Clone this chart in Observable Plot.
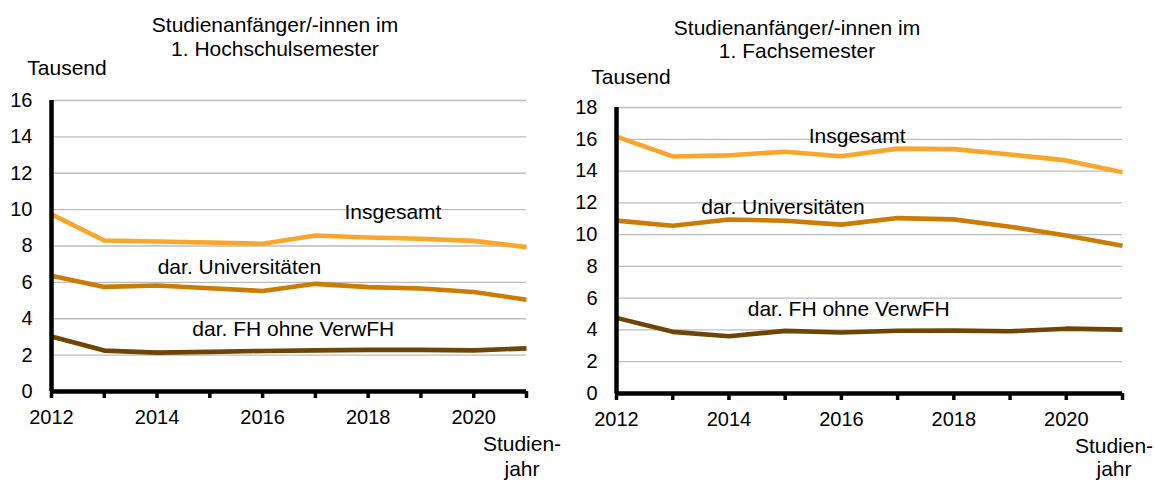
<!DOCTYPE html>
<html>
<head>
<meta charset="utf-8">
<script src="https://cdn.jsdelivr.net/npm/d3@7"></script>
<script src="https://cdn.jsdelivr.net/npm/@observablehq/plot@0.6"></script>
<style>
  body { margin: 0; background: #fff; font-family: "Liberation Sans", Arial, sans-serif; }
  #wrap { position: relative; width: 1155px; height: 483px; overflow: hidden; background: #fff; }
  .t { position: absolute; white-space: nowrap; font-size: 21px; line-height: 24px; color: #000; text-align: center; transform: translateX(-50%); }
  .p { position: absolute; top: 0; }
</style>
</head>
<body>
<div id="wrap"></div>
<script>
// ---------- data ----------
const years = [2012, 2013, 2014, 2015, 2016, 2017, 2018, 2019, 2020, 2021];
const seriesNames = ["Insgesamt", "dar. Universitäten", "dar. FH ohne VerwFH"];

// Studienanfänger/-innen im 1. Hochschulsemester (Tausend)
const hsInsgesamt     = [9.74, 8.30, 8.25, 8.19, 8.12, 8.58, 8.47, 8.40, 8.28, 7.94];
const hsUniversitaeten = [6.37, 5.75, 5.83, 5.68, 5.53, 5.92, 5.74, 5.66, 5.47, 5.05];
const hsFH            = [3.02, 2.25, 2.14, 2.18, 2.23, 2.26, 2.29, 2.29, 2.26, 2.37];

// Studienanfänger/-innen im 1. Fachsemester (Tausend)
const fsInsgesamt     = [16.17, 14.92, 14.99, 15.22, 14.93, 15.41, 15.38, 15.04, 14.67, 13.92];
const fsUniversitaeten = [10.88, 10.56, 10.95, 10.87, 10.63, 11.04, 10.96, 10.50, 9.95, 9.30];
const fsFH            = [4.76, 3.88, 3.60, 3.94, 3.84, 3.95, 3.96, 3.92, 4.08, 4.02];

const titlesLeft  = ["Studienanfänger/-innen im", "1. Hochschulsemester"];
const titlesRight = ["Studienanfänger/-innen im", "1. Fachsemester"];
const yUnit = "Tausend";
const xUnit = ["Studien-", "jahr"];
const yTicksLeft  = [0, 2, 4, 6, 8, 10, 12, 14, 16];
const yTicksRight = [0, 2, 4, 6, 8, 10, 12, 14, 16, 18];

// label anchor points (data coordinates)
const labelsLeft = [
  {text: seriesNames[0], x: 2018.47, y: 9.86},
  {text: seriesNames[1], x: 2015.56, y: 6.82},
  {text: seriesNames[2], x: 2016.58, y: 3.41}
];
const labelsRight = [
  {text: seriesNames[0], x: 2016.28, y: 16.22},
  {text: seriesNames[1], x: 2014.96, y: 11.75},
  {text: seriesNames[2], x: 2016.13, y: 5.27}
];

const colors = ["#FAA62B", "#CC7B05", "#6E4502"];

// ---------- drawing ----------
const wrap = document.getElementById("wrap");

function addText(lines, cx, cy, lh) {
  const d = document.createElement("div");
  d.className = "t";
  d.style.left = cx + "px";
  d.style.top = (cy - lh / 2) + "px";
  d.style.lineHeight = lh + "px";
  d.innerHTML = lines.join("<br>");
  wrap.appendChild(d);
}

function panel({left, width, mL, mR, mT, mB, yTicks, series, labels}) {
  const yMax = yTicks[yTicks.length - 1];
  const lineMarks = series.map((vals, k) =>
    Plot.line(years.map((yr, i) => ({year: yr, value: vals[i]})), {
      x: "year", y: "value", stroke: colors[k], strokeWidth: 4.6,
      strokeLinejoin: "round", strokeLinecap: "butt"
    })
  );
  const plot = Plot.plot({
    width, height: 483,
    marginLeft: mL, marginRight: mR, marginTop: mT, marginBottom: mB,
    style: {fontFamily: "'Liberation Sans', Arial, sans-serif", fontSize: "20px", color: "#000", background: "transparent", overflow: "visible"},
    x: {domain: [2012, 2021]},
    y: {domain: [0, yMax]},
    marks: [
      Plot.gridY(yTicks.filter(d => d > 0), {stroke: "#bdbdbd", strokeOpacity: 1, strokeWidth: 1.3}),
      Plot.text(labels, {x: "x", y: "y", text: "text", fill: "#000", fontSize: 21, textAnchor: "middle", lineAnchor: "middle", ariaLabel: "serieslabel"}),
      ...lineMarks,
      Plot.axisY({ticks: yTicks, tickSize: 0, tickPadding: 19, fontSize: 20, label: null}),
      Plot.axisX({ticks: years, tickSize: 7, tickPadding: 11, tickFormat: d => (d % 2 === 0 ? String(d) : ""), strokeWidth: 3.5, stroke: "#000", fontSize: 20, label: null}),
      Plot.ruleY([0], {stroke: "#000", strokeWidth: 4.5}),
      Plot.ruleX([2012], {y1: 0, y2: yMax, stroke: "#000", strokeWidth: 4.5})
    ]
  });
  const holder = document.createElement("div");
  holder.className = "p";
  holder.style.left = left + "px";
  holder.appendChild(plot);
  wrap.appendChild(holder);

  // white boxes behind the series labels
  plot.querySelectorAll('g[aria-label="serieslabel"] text').forEach(t => {
    const b = t.getBBox();
    const r = document.createElementNS("http://www.w3.org/2000/svg", "rect");
    r.setAttribute("x", b.x - 5);
    r.setAttribute("y", b.y - 3);
    r.setAttribute("width", b.width + 10);
    r.setAttribute("height", b.height + 3);
    r.setAttribute("fill", "#fff");
    r.setAttribute("stroke", "none");
    if (t.getAttribute("transform")) r.setAttribute("transform", t.getAttribute("transform"));
    t.parentNode.insertBefore(r, t);
  });
}

panel({left: 0, width: 560, mL: 51, mR: 34, mT: 100, mB: 92, yTicks: yTicksLeft,
       series: [hsInsgesamt, hsUniversitaeten, hsFH], labels: labelsLeft});
panel({left: 560, width: 595, mL: 56, mR: 33, mT: 107, mB: 90, yTicks: yTicksRight,
       series: [fsInsgesamt, fsUniversitaeten, fsFH], labels: labelsRight});

addText(titlesLeft, 275, 25, 24);
addText(titlesRight, 797, 27, 23);
addText([yUnit], 67, 68, 24);
addText([yUnit], 631, 77, 24);
addText(xUnit, 522, 443, 25);
addText(xUnit, 1114, 445, 23);
</script>
</body>
</html>
